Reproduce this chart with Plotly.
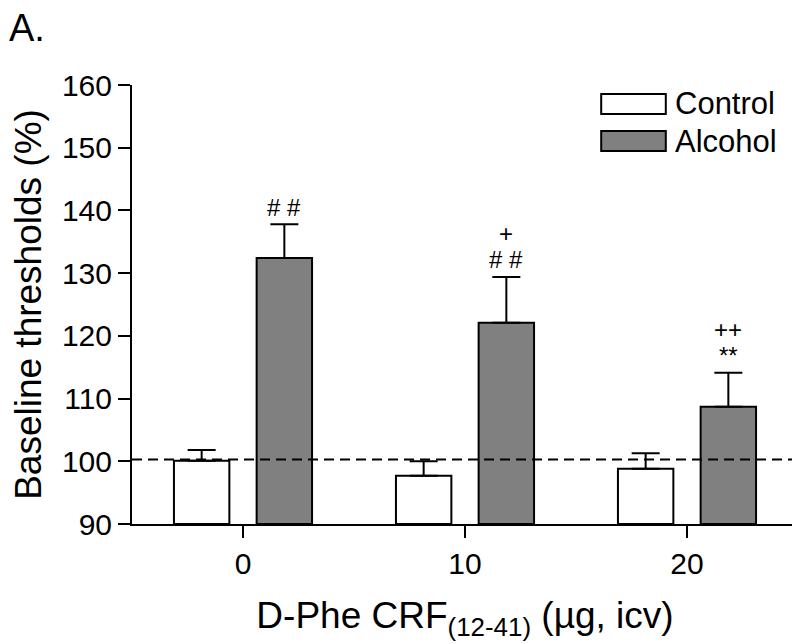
import plotly.graph_objects as go

# ---- data ----
doses = ["0", "10", "20"]
series_names = ["Control", "Alcohol"]
control_mean = [100.1, 97.7, 98.8]
control_sem = [1.7, 2.3, 2.5]
alcohol_mean = [132.4, 122.1, 108.7]
alcohol_sem = [5.4, 7.3, 5.4]
sig_lower = ["# #", "# #", "**"]
sig_upper = ["", "+", "++"]
baseline_ref = 100.3
y_ticks = [90, 100, 110, 120, 130, 140, 150, 160]

FONT = "Liberation Sans, Arial, sans-serif"
colors = ["#ffffff", "#808080"]

fig = go.Figure()
for name, means, sems, col in [
    (series_names[0], control_mean, control_sem, colors[0]),
    (series_names[1], alcohol_mean, alcohol_sem, colors[1]),
]:
    fig.add_trace(go.Bar(
        x=doses, y=[m - 90 for m in means], base=90, name=name,
        marker=dict(color=col, line=dict(color="black", width=2)),
        error_y=dict(type="data", symmetric=False, array=sems,
                     arrayminus=[0] * len(sems), color="black",
                     thickness=2, width=14),
        showlegend=False,
    ))

# significance markers above alcohol error bars (x given as category index)
for i, d in enumerate(doses):
    top = alcohol_mean[i] + alcohol_sem[i]
    if sig_lower[i]:
        fig.add_annotation(x=i, y=top, xref="x", yref="y", text=sig_lower[i],
                           showarrow=False, xshift=41, yshift=17, yanchor="middle",
                           font=dict(family=FONT, size=24, color="black"))
    if sig_upper[i]:
        fig.add_annotation(x=i, y=top, xref="x", yref="y", text=sig_upper[i],
                           showarrow=False, xshift=41, yshift=43, yanchor="middle",
                           font=dict(family=FONT, size=24, color="black"))

# dashed baseline
fig.add_shape(type="line", xref="paper", x0=0, x1=1, yref="y",
              y0=baseline_ref, y1=baseline_ref,
              line=dict(color="black", width=2, dash="10px,6px"))

# custom legend
leg_rows = [(0.9795, 0.934), (0.895, 0.8497)]
for (ya, yb), name, col in zip(leg_rows, series_names, colors):
    fig.add_shape(type="rect", xref="paper", yref="paper",
                  x0=0.7045, x1=0.8015, y0=yb, y1=ya,
                  fillcolor=col, line=dict(color="black", width=2))
    fig.add_annotation(xref="paper", yref="paper", x=0.812, y=(ya + yb) / 2,
                       text=name, showarrow=False, xanchor="left", yanchor="middle",
                       font=dict(family=FONT, size=31, color="black"))

fig.add_annotation(xref="paper", yref="paper", x=-0.188, y=1.13, text="A.",
                   showarrow=False, xanchor="left", yanchor="middle",
                   font=dict(family=FONT, size=38, color="black"))

fig.update_layout(
    width=800, height=644,
    margin=dict(l=124, r=10, t=77, b=128),
    paper_bgcolor="white", plot_bgcolor="white",
    barmode="group", bargap=0.255, bargroupgap=0.33,
    font=dict(family=FONT, color="black"),
)
fig.update_xaxes(
    type="category", range=[-0.5, 2.5],
    showline=True, linecolor="black", linewidth=2,
    ticks="outside", ticklen=12, tickwidth=2, tickcolor="black",
    tickfont=dict(size=30), showgrid=False, zeroline=False,
    title=dict(text="D-Phe CRF<sub>(12-41)</sub> (\u00b5g, icv)",
               font=dict(size=37), standoff=23),
)
fig.update_yaxes(
    range=[90, 160], tickvals=y_ticks,
    showline=True, linecolor="black", linewidth=2,
    ticks="outside", ticklen=12, tickwidth=2, tickcolor="black",
    tickfont=dict(size=30), showgrid=False, zeroline=False,
    title=dict(text="Baseline thresholds (%)", font=dict(size=37), standoff=18),
)

fig.write_html("out.html")
